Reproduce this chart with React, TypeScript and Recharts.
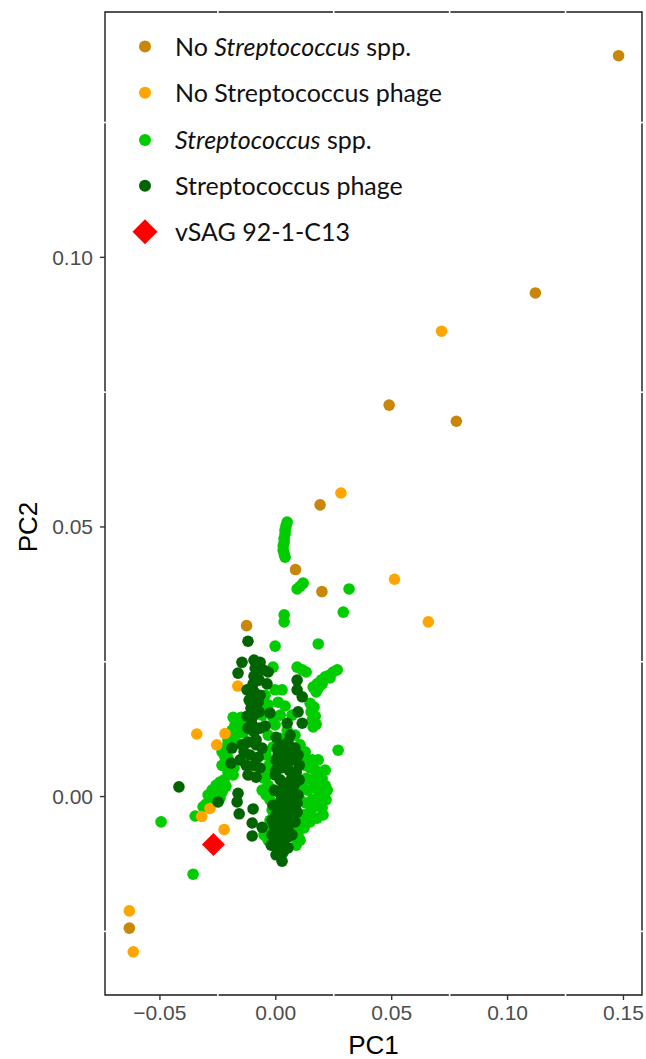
import React from 'react';
import { ScatterChart, Scatter, XAxis, YAxis, ZAxis, ReferenceArea, ReferenceLine, Customized } from 'recharts';

// ---------- data (PC1, PC2) ----------
const noStrepSpp = [
  { x: 0.1479, y: 0.1374 }, { x: 0.112, y: 0.0934 }, { x: 0.0489, y: 0.0726 }, { x: 0.0779, y: 0.0696 },
  { x: 0.0191, y: 0.0541 }, { x: 0.0085, y: 0.0421 }, { x: 0.0199, y: 0.038 }, { x: -0.0126, y: 0.0317 },
  { x: -0.0632, y: -0.0244 },
];

const noStrepPhage = [
  { x: 0.0715, y: 0.0863 }, { x: 0.0281, y: 0.0563 }, { x: 0.0512, y: 0.0403 }, { x: 0.0658, y: 0.0324 },
  { x: -0.0164, y: 0.0205 }, { x: -0.0341, y: 0.0116 }, { x: -0.0219, y: 0.0117 }, { x: -0.0255, y: 0.0096 },
  { x: -0.0111, y: 0.004 }, { x: -0.0284, y: -0.0022 }, { x: -0.032, y: -0.0037 }, { x: -0.0223, y: -0.0061 },
  { x: -0.0632, y: -0.0212 }, { x: -0.0615, y: -0.0288 },
];

const strepSpp = [
  { x: 0.0049, y: 0.0509 }, { x: 0.0044, y: 0.0502 }, { x: 0.004, y: 0.0494 }, { x: 0.004, y: 0.0487 },
  { x: 0.0036, y: 0.0479 }, { x: 0.0036, y: 0.0472 }, { x: 0.0032, y: 0.0465 }, { x: 0.0032, y: 0.0457 },
  { x: 0.0036, y: 0.045 }, { x: 0.004, y: 0.0444 },
  { x: 0.0092, y: 0.0385 }, { x: 0.0105, y: 0.039 }, { x: 0.0118, y: 0.0396 },
  { x: 0.0316, y: 0.0385 }, { x: 0.0291, y: 0.0342 }, { x: 0.0036, y: 0.0337 }, { x: 0.0036, y: 0.0324 },
  { x: -0.0003, y: 0.0279 }, { x: 0.0183, y: 0.0283 }, { x: -0.0012, y: 0.024 }, { x: 0.0269, y: 0.0086 },
  { x: -0.0495, y: -0.0047 }, { x: -0.0357, y: -0.0144 }, { x: -0.0348, y: -0.0036 },
  { x: 0.0092, y: 0.024 }, { x: 0.0114, y: 0.0235 }, { x: 0.0131, y: 0.0231 },
  { x: 0.0161, y: 0.0203 }, { x: 0.0178, y: 0.0209 }, { x: 0.0196, y: 0.0216 }, { x: 0.0213, y: 0.0222 },
  { x: 0.023, y: 0.0225 }, { x: 0.0247, y: 0.0231 }, { x: 0.0265, y: 0.0235 }, { x: 0.0183, y: 0.0201 },
  { x: 0.02, y: 0.0209 }, { x: 0.0234, y: 0.022 }, { x: 0.0174, y: 0.0194 },
  { x: 0.0148, y: 0.0173 }, { x: 0.0165, y: 0.0166 }, { x: 0.0152, y: 0.0157 }, { x: 0.017, y: 0.0149 },
  { x: 0.0157, y: 0.0142 }, { x: 0.0174, y: 0.0134 }, { x: 0.0161, y: 0.0129 },
  { x: 0.0027, y: 0.0198 }, { x: 0.001, y: 0.0175 }, { x: -0.0012, y: 0.0147 }, { x: 0.0049, y: 0.0123 },
  { x: 0.0019, y: 0.0108 }, { x: -0.0012, y: 0.0092 }, { x: -0.0059, y: 0.017 }, { x: 0.004, y: 0.0168 },
  { x: 0.007, y: 0.0151 }, { x: 0.0083, y: 0.0114 }, { x: 0.0105, y: 0.0096 }, { x: 0.0127, y: 0.0083 },
  { x: 0.0131, y: 0.007 },
  { x: -0.0046, y: 0.0188 }, { x: -0.0003, y: 0.0198 }, { x: -0.0033, y: 0.017 }, { x: 0.0019, y: 0.0151 },
  { x: -0.0059, y: 0.0151 }, { x: -0.0003, y: 0.0133 }, { x: -0.0033, y: 0.0114 },
  { x: -0.0184, y: 0.0147 }, { x: -0.0167, y: 0.0142 }, { x: -0.015, y: 0.0147 }, { x: -0.0176, y: 0.0133 },
  { x: -0.0154, y: 0.0127 }, { x: -0.0141, y: 0.0118 }, { x: -0.0163, y: 0.0118 }, { x: -0.0189, y: 0.0123 },
  { x: -0.0133, y: 0.0134 }, { x: -0.0219, y: 0.0073 }, { x: -0.0232, y: 0.0083 },
  { x: -0.0206, y: 0.0105 }, { x: -0.0176, y: 0.0105 }, { x: -0.0223, y: 0.009 }, { x: -0.0206, y: 0.0071 },
  { x: -0.0232, y: 0.0058 }, { x: -0.018, y: 0.0053 }, { x: -0.0206, y: 0.0058 }, { x: -0.0184, y: 0.004 },
  { x: -0.0206, y: 0.0045 },
  { x: -0.0292, y: 0.0003 }, { x: -0.0275, y: 0.0012 }, { x: -0.0258, y: 0.0021 }, { x: -0.0241, y: 0.0027 },
  { x: -0.0223, y: 0.0031 }, { x: -0.0215, y: 0.0019 }, { x: -0.0232, y: 0.0008 }, { x: -0.0258, y: 0.0001 },
  { x: -0.0284, y: -0.0006 }, { x: -0.0301, y: -0.0014 }, { x: -0.0266, y: -0.001 }, { x: -0.0241, y: -0.0003 },
  { x: -0.0314, y: -0.0019 },
  { x: -0.0051, y: 0.0034 }, { x: -0.0033, y: 0.0021 }, { x: -0.0042, y: 0.0003 }, { x: -0.0059, y: 0.0012 },
  { x: -0.0042, y: 0.0077 }, { x: -0.0029, y: 0.0058 }, { x: -0.0033, y: 0.004 },
  { x: 0.0105, y: 0.0064 }, { x: 0.0127, y: 0.0058 }, { x: 0.0148, y: 0.0053 }, { x: 0.017, y: 0.0049 },
  { x: 0.0191, y: 0.0045 }, { x: 0.02, y: 0.0034 }, { x: 0.0183, y: 0.0027 }, { x: 0.0157, y: 0.0031 },
  { x: 0.0131, y: 0.0034 }, { x: 0.0114, y: 0.0021 }, { x: 0.0139, y: 0.0012 }, { x: 0.0165, y: 0.0016 },
  { x: 0.0191, y: 0.0016 }, { x: 0.0209, y: 0.0005 }, { x: 0.0183, y: -0.0001 }, { x: 0.0157, y: -0.0006 },
  { x: 0.0131, y: -0.0012 }, { x: 0.0174, y: -0.0018 }, { x: 0.02, y: -0.0021 }, { x: 0.0148, y: -0.0029 },
  { x: 0.0122, y: -0.0034 }, { x: 0.0105, y: -0.0006 }, { x: 0.0105, y: -0.0047 }, { x: 0.0088, y: -0.0058 },
  { x: 0.0213, y: 0.0021 }, { x: 0.0217, y: -0.0006 }, { x: 0.0204, y: -0.0034 }, { x: 0.0178, y: -0.004 },
  { x: 0.0148, y: -0.0047 }, { x: 0.0122, y: -0.0058 }, { x: 0.0096, y: -0.0071 }, { x: 0.0088, y: -0.009 },
  { x: 0.0105, y: -0.0081 }, { x: 0.0222, y: 0.0012 }, { x: 0.0183, y: 0.0068 }, { x: 0.0157, y: 0.0068 },
  { x: 0.0213, y: 0.0049 },
  { x: -0.0025, y: -0.0006 }, { x: -0.0016, y: -0.0025 }, { x: -0.0025, y: -0.0044 }, { x: -0.0033, y: -0.0058 },
  { x: -0.0051, y: -0.0071 }, { x: -0.0033, y: -0.0081 }, { x: -0.0012, y: -0.0086 }, { x: 0.0014, y: -0.0088 },
];

const strepPhage = [
  { x: -0.0418, y: 0.0018 }, { x: -0.012, y: 0.0288 }, { x: -0.0146, y: 0.0249 }, { x: -0.0163, y: 0.0229 },
  { x: -0.0033, y: 0.0231 }, { x: -0.0038, y: 0.0209 }, { x: -0.0249, y: -0.001 }, { x: 0.0027, y: -0.012 },
  { x: -0.0094, y: 0.0253 }, { x: -0.0089, y: 0.0238 }, { x: -0.0094, y: 0.0223 }, { x: -0.0098, y: 0.0209 },
  { x: -0.0094, y: 0.0194 }, { x: -0.0102, y: 0.0179 }, { x: -0.0107, y: 0.0164 }, { x: -0.0098, y: 0.0149 },
  { x: -0.0102, y: 0.0134 }, { x: -0.0094, y: 0.012 }, { x: -0.0085, y: 0.0105 },
  { x: -0.0068, y: 0.0249 }, { x: -0.0055, y: 0.0235 }, { x: -0.0115, y: 0.0179 }, { x: -0.0076, y: 0.0175 },
  { x: -0.0124, y: 0.0149 },
  { x: -0.0072, y: 0.0216 }, { x: -0.0068, y: 0.0188 }, { x: -0.0072, y: 0.0157 }, { x: -0.0068, y: 0.0127 },
  { x: -0.012, y: 0.0127 }, { x: -0.0124, y: 0.0198 },
  { x: 0.0092, y: 0.0216 }, { x: 0.0092, y: 0.0198 }, { x: 0.0114, y: 0.0185 }, { x: 0.0096, y: 0.0157 },
  { x: 0.0114, y: 0.0136 },
  { x: -0.0025, y: 0.0155 }, { x: -0.0046, y: 0.0131 }, { x: 0.0049, y: 0.0136 }, { x: 0.0001, y: 0.011 },
  { x: 0.0062, y: 0.0114 },
  { x: -0.0146, y: 0.0096 }, { x: -0.012, y: 0.0101 }, { x: -0.0085, y: 0.0096 }, { x: -0.0059, y: 0.009 },
  { x: -0.0137, y: 0.0083 }, { x: -0.0111, y: 0.0077 }, { x: -0.0076, y: 0.0073 }, { x: -0.0154, y: 0.0068 },
  { x: -0.0128, y: 0.0058 }, { x: -0.0094, y: 0.0058 }, { x: -0.0068, y: 0.0053 }, { x: -0.012, y: 0.004 },
  { x: -0.0085, y: 0.0036 }, { x: -0.0189, y: 0.009 }, { x: -0.0193, y: 0.0062 },
  { x: 0.0019, y: 0.0096 }, { x: 0.0053, y: 0.0101 }, { x: 0.0083, y: 0.009 }, { x: 0.001, y: 0.0077 },
  { x: 0.004, y: 0.0073 }, { x: 0.007, y: 0.0068 }, { x: 0.0023, y: 0.0053 }, { x: 0.0057, y: 0.0049 },
  { x: 0.0088, y: 0.0045 }, { x: 0.0019, y: 0.0031 }, { x: 0.0049, y: 0.0025 }, { x: 0.0079, y: 0.0021 },
  { x: 0.0014, y: 0.0008 }, { x: 0.0044, y: 0.0003 }, { x: 0.0075, y: -0.0001 }, { x: 0.001, y: -0.0016 },
  { x: 0.004, y: -0.0019 }, { x: 0.007, y: -0.0023 }, { x: 0.0001, y: -0.0034 }, { x: 0.0032, y: -0.004 },
  { x: 0.0062, y: -0.0044 }, { x: -0.0007, y: -0.0055 }, { x: 0.0023, y: -0.0058 }, { x: 0.0053, y: -0.0062 },
  { x: -0.0016, y: -0.0071 }, { x: 0.0014, y: -0.0077 }, { x: 0.0001, y: -0.0092 }, { x: 0.0032, y: -0.0084 },
  { x: 0.0032, y: 0.0086 }, { x: 0.0062, y: 0.0083 }, { x: 0.0036, y: 0.0064 }, { x: 0.0001, y: 0.0049 },
  { x: 0.007, y: 0.0036 }, { x: 0.0032, y: 0.0016 }, { x: 0.0062, y: 0.0012 }, { x: 0.0023, y: -0.0006 },
  { x: 0.0053, y: -0.001 }, { x: 0.0019, y: -0.0029 }, { x: 0.0049, y: -0.0031 }, { x: 0.0006, y: -0.0047 },
  { x: 0.004, y: -0.0051 }, { x: 0.0001, y: -0.0066 }, { x: 0.0036, y: -0.0068 },
  { x: 0.0096, y: 0.0077 }, { x: 0.0101, y: 0.0058 }, { x: 0.0101, y: 0.0031 }, { x: 0.0096, y: 0.0003 },
  { x: 0.0092, y: -0.0012 }, { x: 0.0083, y: -0.0047 }, { x: 0.007, y: -0.0071 }, { x: 0.0053, y: -0.0095 },
  { x: 0.0032, y: -0.0103 }, { x: 0.0001, y: -0.0108 }, { x: -0.002, y: -0.009 }, { x: -0.0016, y: -0.0044 },
  { x: -0.0012, y: -0.0016 }, { x: -0.0007, y: 0.0012 }, { x: -0.0003, y: 0.004 }, { x: 0.0001, y: 0.0068 },
  { x: 0.0006, y: 0.009 },
  { x: -0.0163, y: 0.0006 }, { x: -0.0167, y: -0.001 }, { x: -0.0158, y: -0.0032 }, { x: -0.0098, y: -0.0023 },
  { x: -0.0102, y: -0.0049 }, { x: -0.0059, y: -0.0057 }, { x: -0.0102, y: -0.0073 }, { x: 0.0053, y: -0.0075 },
  { x: 0.0092, y: -0.0029 },
];

const vSag = [{ x: -0.0269, y: -0.0089 }];

const xTicks = [-0.05, 0, 0.05, 0.1, 0.15];
const yTicks = [0, 0.05, 0.1];
const minorX = [-0.025, 0.025, 0.075, 0.125];
const minorY = [-0.025, 0.025, 0.075, 0.125];
const xDomain = [-0.0737, 0.158];
const yDomain = [-0.0368, 0.1455];

const COLORS = {
  noStrepSpp: '#C8860B',
  noStrepPhage: '#FFA500',
  strepSpp: '#00CC00',
  strepPhage: '#006400',
  vsag: '#FF0000',
};

const legendItems = [
  { parts: [{ t: 'No ', i: false }, { t: 'Streptococcus', i: true }, { t: ' spp.', i: false }], color: COLORS.noStrepSpp, diamond: false },
  { parts: [{ t: 'No Streptococcus phage', i: false }], color: COLORS.noStrepPhage, diamond: false },
  { parts: [{ t: 'Streptococcus', i: true }, { t: ' spp.', i: false }], color: COLORS.strepSpp, diamond: false },
  { parts: [{ t: 'Streptococcus phage', i: false }], color: COLORS.strepPhage, diamond: false },
  { parts: [{ t: 'vSAG 92-1-C13', i: false }], color: COLORS.vsag, diamond: true },
];

const AXIS_FONT = "'Liberation Sans', Arial, Helvetica, sans-serif";
const LEGEND_FONT = "Lato, 'Open Sans', sans-serif";

const fmt = (v: number) => (v < 0 ? '\u2212' : '') + Math.abs(v).toFixed(2);

const makeDot = (color: string) => (props: any) => {
  const { cx, cy } = props;
  if (cx == null || cy == null) return null;
  return <circle cx={cx} cy={cy} r={5.8} fill={color} />;
};

const Diamond = (props: any) => {
  const { cx, cy } = props;
  if (cx == null || cy == null) return null;
  const h = 11.5;
  return <polygon points={`${cx},${cy - h} ${cx + h},${cy} ${cx},${cy + h} ${cx - h},${cy}`} fill={COLORS.vsag} />;
};

const LegendLayer = () => {
  const x0 = 145;
  const rows = [46.5, 92.7, 140, 185.7, 231.7];
  return (
    <g>
      {legendItems.map((it, k) => {
        const cy = rows[k];
        return (
          <g key={k}>
            {it.diamond ? (
              <polygon points={`${x0},${cy - 12.5} ${x0 + 12.5},${cy} ${x0},${cy + 12.5} ${x0 - 12.5},${cy}`} fill={it.color} />
            ) : (
              <circle cx={x0} cy={cy} r={6} fill={it.color} />
            )}
            <text x={175} y={cy + 9} fontFamily={LEGEND_FONT} fontSize={25} fill="#111">
              {it.parts.map((p, j) => (
                <tspan key={j} fontStyle={p.i ? 'italic' : 'normal'}>{p.t}</tspan>
              ))}
            </text>
          </g>
        );
      })}
    </g>
  );
};

const XLabel = (props: any) => {
  const vb = props.viewBox || {};
  return (
    <text x={vb.x + vb.width / 2} y={1054} textAnchor="middle" fontFamily={AXIS_FONT} fontSize={26} fill="#000">PC1</text>
  );
};

const YLabel = () => {
  const cx = 28;
  const cy = 527;
  return (
    <text x={cx} y={cy} transform={`rotate(-90, ${cx}, ${cy})`} textAnchor="middle" dominantBaseline="central" fontFamily={AXIS_FONT} fontSize={26} fill="#000">PC2</text>
  );
};

export default function App() {
  const tickStyle = { fill: '#4D4D4D', fontSize: 21, fontFamily: AXIS_FONT };
  const eps = 0.0004;
  const epsX = 0.0009;
  return (
    <div style={{ position: 'absolute', left: 0, top: 0, width: 646, height: 1059, background: '#fff' }}>
      <ScatterChart width={646} height={1059} margin={{ top: 12, right: 4, bottom: 0, left: 0 }}>
        <XAxis
          type="number"
          dataKey="x"
          domain={xDomain}
          ticks={xTicks}
          allowDataOverflow
          tickFormatter={fmt}
          height={64}
          axisLine={false}
          tickLine={{ stroke: '#333', strokeWidth: 1.4 }}
          tickSize={5}
          tickMargin={5}
          tick={tickStyle}
          label={<XLabel />}
        />
        <YAxis
          type="number"
          dataKey="y"
          domain={yDomain}
          ticks={yTicks}
          allowDataOverflow
          tickFormatter={fmt}
          width={105}
          axisLine={false}
          tickLine={{ stroke: '#333', strokeWidth: 1.4 }}
          tickSize={5}
          tickMargin={7}
          tick={tickStyle}
          label={<YLabel />}
        />
        <ZAxis range={[90, 90]} />
        <ReferenceArea x1={xDomain[0]} x2={xDomain[1]} y1={yDomain[0]} y2={yDomain[1]} fill="none" fillOpacity={0} stroke="#1a1a1a" strokeWidth={1.4} ifOverflow="visible" />
        {minorX.map((v) => (
          <ReferenceLine key={'bx' + v} ifOverflow="visible" stroke="#fff" strokeWidth={1.6}
            segment={[{ x: v, y: yDomain[0] - eps }, { x: v, y: yDomain[0] + eps }]} />
        ))}
        {minorX.map((v) => (
          <ReferenceLine key={'tx' + v} ifOverflow="visible" stroke="#fff" strokeWidth={1.6}
            segment={[{ x: v, y: yDomain[1] - eps }, { x: v, y: yDomain[1] + eps }]} />
        ))}
        {minorY.map((v) => (
          <ReferenceLine key={'ly' + v} ifOverflow="visible" stroke="#fff" strokeWidth={1.6}
            segment={[{ x: xDomain[0] - epsX, y: v }, { x: xDomain[0] + epsX, y: v }]} />
        ))}
        {minorY.map((v) => (
          <ReferenceLine key={'ry' + v} ifOverflow="visible" stroke="#fff" strokeWidth={1.6}
            segment={[{ x: xDomain[1] - epsX, y: v }, { x: xDomain[1] + epsX, y: v }]} />
        ))}
        <Scatter name="Streptococcus spp." data={strepSpp} shape={makeDot(COLORS.strepSpp)} isAnimationActive={false} />
        <Scatter name="No Streptococcus phage" data={noStrepPhage} shape={makeDot(COLORS.noStrepPhage)} isAnimationActive={false} />
        <Scatter name="No Streptococcus spp." data={noStrepSpp} shape={makeDot(COLORS.noStrepSpp)} isAnimationActive={false} />
        <Scatter name="Streptococcus phage" data={strepPhage} shape={makeDot(COLORS.strepPhage)} isAnimationActive={false} />
        <Scatter name="vSAG 92-1-C13" data={vSag} shape={<Diamond />} isAnimationActive={false} />
        <Customized component={LegendLayer} />
      </ScatterChart>
    </div>
  );
}
